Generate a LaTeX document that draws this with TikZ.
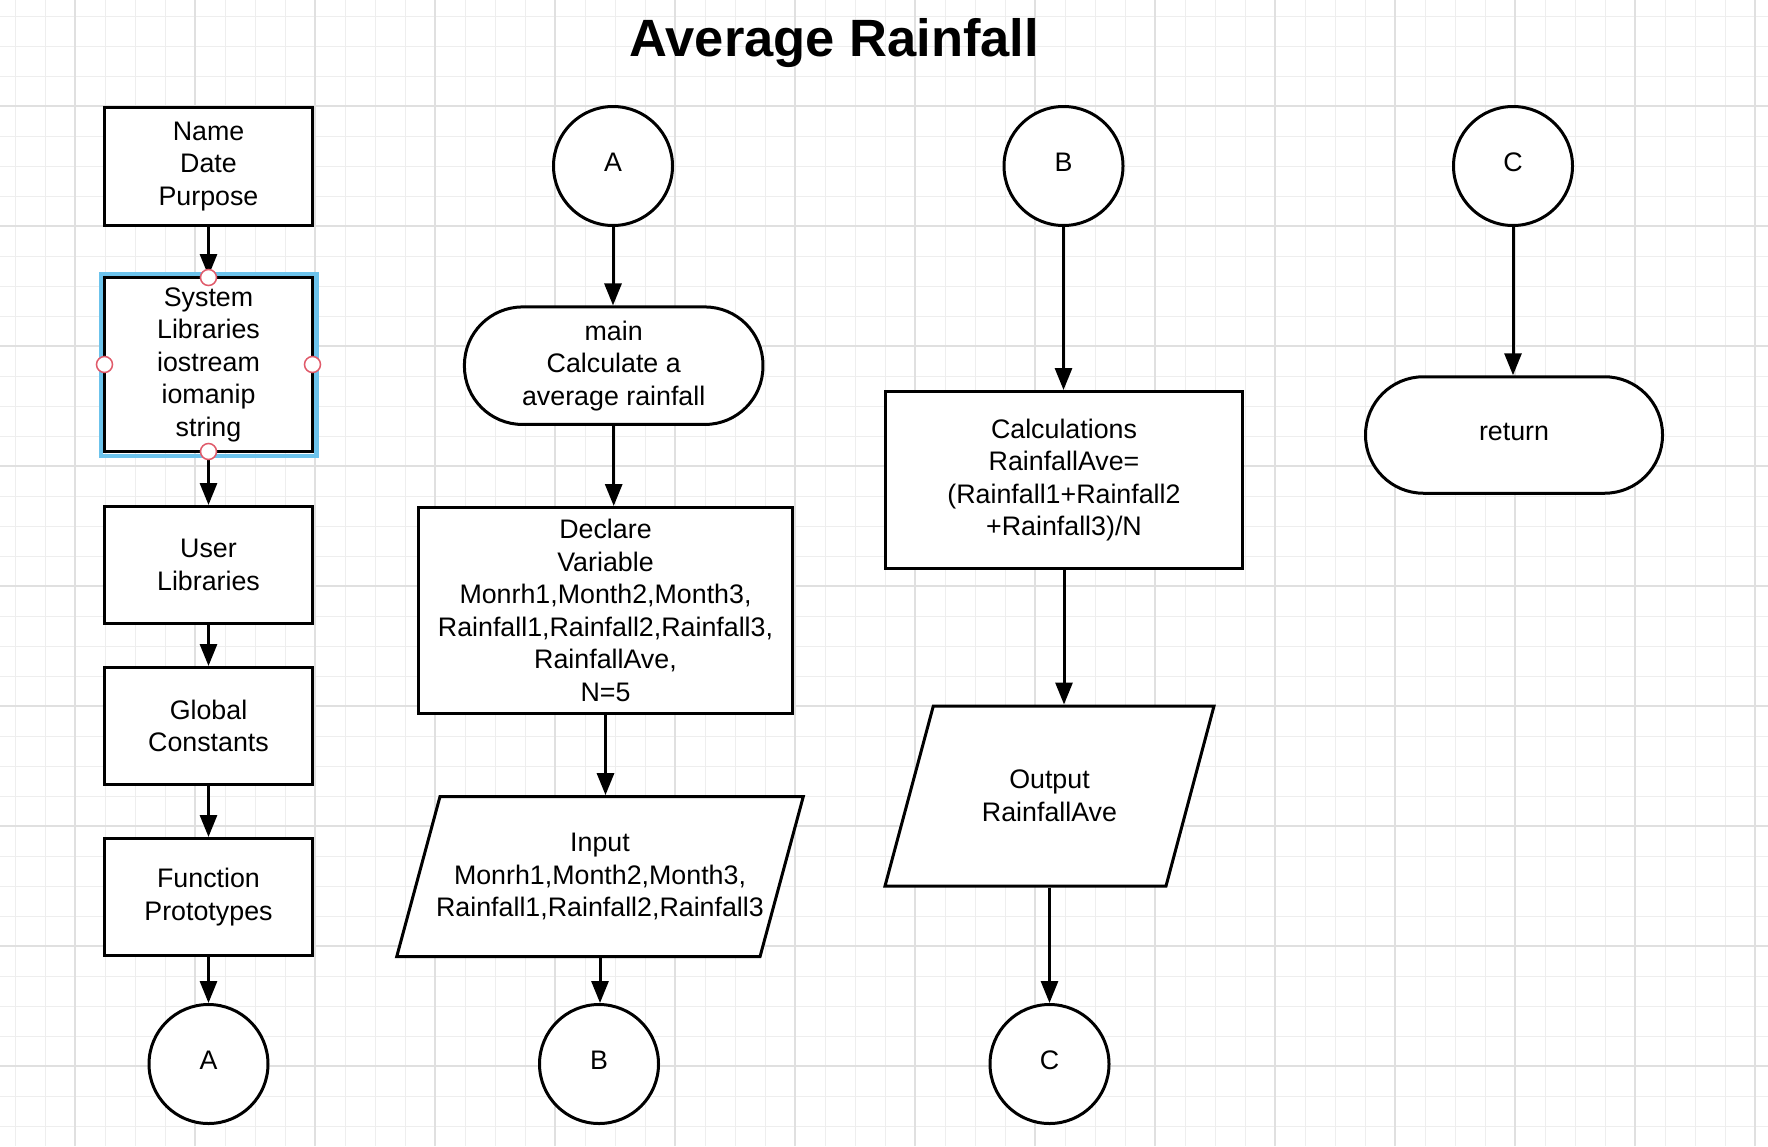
\documentclass[tikz,border=0pt]{standalone}
\usepackage{fontspec}
\setmainfont{Liberation Sans}
\usetikzlibrary{arrows.meta,calc}
\definecolor{gridminor}{HTML}{EEEEEE}
\definecolor{gridmajor}{HTML}{E0E0E0}
\definecolor{selblue}{HTML}{6CC3EC}
\definecolor{handlered}{HTML}{E05A6A}
\begin{document}
\begin{tikzpicture}[x=1pt,y=-1pt,
  txt/.style={font=\fontsize{26.8}{32.5}\selectfont, align=center, inner sep=0pt},
  procbox/.style={txt, draw, line width=3pt, outer sep=1.5pt, fill=white},
  termbox/.style={procbox, rounded corners=58pt},
  conn/.style={txt, draw, circle, line width=3pt, outer sep=1.5pt, minimum size=119pt, fill=white, text depth=7pt},
  iobox/.style={txt, outer sep=0pt},
  ioshape/.style={draw, line width=3pt, fill=white, line join=miter},
  arr/.style={line width=3pt, -{Triangle[length=22pt,width=17pt]}},
  handle/.style={circle, draw=handlered, fill=white, line width=1.5pt, minimum size=16pt, inner sep=0pt}
]
\useasboundingbox (0,0) rectangle (1768,1146);
\fill[white] (0,0) rectangle (1768,1146);
% grid
\foreach \gx in {15,45,...,1765} \draw[gridminor, line width=1pt] (\gx,0) -- (\gx,1146);
\foreach \gy in {16,46,...,1145} \draw[gridminor, line width=1pt] (0,\gy) -- (1768,\gy);
\foreach \gx in {75,195,...,1765} \draw[gridmajor, line width=1.2pt] (\gx,0) -- (\gx,1146);
\foreach \gy in {106,226,...,1145} \draw[gridmajor, line width=1.2pt] (0,\gy) -- (1768,\gy);

% title
\node[font=\fontsize{52.5}{60}\selectfont\bfseries, anchor=base, inner sep=0pt] (title) at (834.5,56) {Average Rainfall};

% column 1
\node[procbox, minimum width=208pt, minimum height=118pt] (name) at (208.5,166.5) {Name\\Date\\Purpose};
\draw[selblue, line width=4.5pt] (101,274) rectangle (316.5,456);
\node[procbox, minimum width=208pt, minimum height=174pt] (syslib) at (208.5,364.5) {System\\Libraries\\iostream\\iomanip\\string};
\node[procbox, minimum width=208pt, minimum height=117pt] (userlib) at (208.5,565) {User\\Libraries};
\node[procbox, minimum width=208pt, minimum height=117pt] (global) at (208.5,726) {Global\\Constants};
\node[procbox, minimum width=208pt, minimum height=117pt] (proto) at (208.5,897) {Function\\Prototypes};
\node[conn] (a1) at (208.5,1064) {A};

% column 2
\node[conn] (a2) at (613,166) {A};
\node[termbox, minimum width=298.5pt, minimum height=117.5pt] (main) at (613.7,365.7) {main\\Calculate a\\average rainfall};
\node[procbox, minimum width=374pt, minimum height=206pt] (declare) at (605.5,610.5) {Declare\\Variable\\Monrh1,Month2,Month3,\\Rainfall1,Rainfall2,Rainfall3,\\RainfallAve,\\N=5};
\draw[ioshape] (396.7,956.7) -- (440,796.5) -- (803.3,796.5) -- (760,956.7) -- cycle;
\node[iobox, minimum width=409pt, minimum height=163pt] (input) at (600,876.6) {Input\\Monrh1,Month2,Month3,\\Rainfall1,Rainfall2,Rainfall3};
\node[conn] (b2) at (599,1064) {B};

% column 3
\node[conn] (b3) at (1063.5,166) {B};
\node[procbox, minimum width=357pt, minimum height=177pt] (calc) at (1064,480) {Calculations\\RainfallAve=\\(Rainfall1+Rainfall2\\+Rainfall3)/N};
\draw[ioshape] (885,886) -- (933.3,706) -- (1214,706) -- (1166,886) -- cycle;
\node[iobox, minimum width=329pt, minimum height=183pt] (output) at (1049.5,796) {Output\\RainfallAve};
\node[conn] (c3) at (1049.5,1064) {C};

% column 4
\node[conn] (c4) at (1513,166) {C};
\node[termbox, minimum width=297pt, minimum height=116.5pt, text depth=7pt] (ret) at (1514,435) {return};

% connectors
\draw[arr] (name.south) -- (name.south |- syslib.north);
\draw[arr] (syslib.south) -- (syslib.south |- userlib.north);
\draw[arr] (userlib.south) -- (userlib.south |- global.north);
\draw[arr] (global.south) -- (global.south |- proto.north);
\draw[arr] (proto.south) -- (proto.south |- a1.north);

\draw[arr] (a2.south) -- (a2.south |- main.north);
\draw[arr] (main.south) -- (main.south |- declare.north);
\draw[arr] (declare.south) -- (declare.south |- input.north);
\draw[arr] (input.south) -- (input.south |- b2.north);

\draw[arr] (b3.south) -- (b3.south |- calc.north);
\draw[arr] (calc.south) -- (calc.south |- output.north);
\draw[arr] (output.south) -- (output.south |- c3.north);

\draw[arr] (c4.south) -- (c4.south |- ret.north);

% selection handles
\node[handle] (h1) at (208.5,277.5) {};
\node[handle] (h2) at (208.5,451.5) {};
\node[handle] (h3) at (104.5,364.5) {};
\node[handle] (h4) at (312.5,364.5) {};
\end{tikzpicture}
\end{document}
